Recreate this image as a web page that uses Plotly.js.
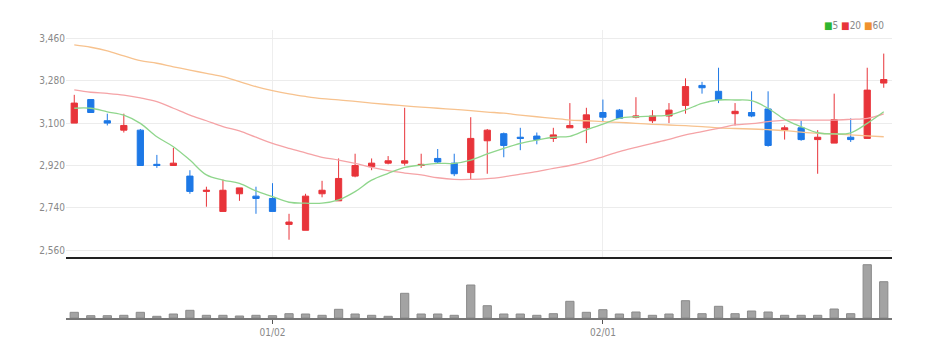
<!DOCTYPE html>
<html>
<head>
<meta charset="utf-8">
<script src="https://cdn.plot.ly/plotly-3.0.1.min.js"></script>
<style>
html,body{margin:0;padding:0;background:#fff;}
#chart{width:937px;height:358px;}
</style>
</head>
<body>
<div id="chart"></div>
<script>
var dates = [
  "2022-12-14","2022-12-15","2022-12-16","2022-12-19","2022-12-20","2022-12-21","2022-12-22","2022-12-23","2022-12-26","2022-12-27","2022-12-28","2022-12-29",
  "2023-01-02","2023-01-03","2023-01-04","2023-01-05","2023-01-06","2023-01-09","2023-01-10","2023-01-11","2023-01-12","2023-01-13",
  "2023-01-16","2023-01-17","2023-01-18","2023-01-19","2023-01-20","2023-01-25","2023-01-26","2023-01-27","2023-01-30","2023-01-31",
  "2023-02-01","2023-02-02","2023-02-03","2023-02-06","2023-02-07","2023-02-08","2023-02-09","2023-02-10","2023-02-13","2023-02-14",
  "2023-02-15","2023-02-16","2023-02-17","2023-02-20","2023-02-21","2023-02-22","2023-02-23","2023-02-24"
];
var openP  = [3100,3200,3110,3070,3070,2925,2920,2875,2810,2725,2800,2790,2780,2670,2645,2800,2770,2875,2915,2930,2930,2920,2950,2930,2890,3025,3055,3040,3045,3035,3080,3080,3145,3155,3125,3110,3130,3175,3260,3235,3140,3145,3160,3070,3080,3030,3015,3040,3035,3270];
var highP  = [3220,3200,3140,3140,3075,2965,2995,2900,2830,2860,2825,2830,2845,2715,2800,2855,2950,2970,2950,2960,3165,2970,2990,2970,3125,3075,3060,3080,3060,3080,3185,3165,3200,3160,3210,3155,3185,3290,3275,3335,3185,3235,3235,3090,3110,3070,3225,3120,3335,3395];
var lowP   = [3100,3145,3090,3060,2920,2910,2920,2800,2745,2725,2770,2715,2725,2605,2645,2785,2770,2870,2900,2925,2920,2910,2930,2875,2860,2885,2955,2985,3010,3020,3080,3015,3105,3120,3120,3100,3100,3140,3225,3185,3090,3125,3000,3030,3025,2885,3015,3020,3035,3250];
var closeP = [3185,3145,3100,3090,2920,2920,2930,2810,2815,2815,2825,2780,2725,2680,2790,2815,2865,2920,2930,2940,2940,2925,2935,2885,3035,3070,3005,3035,3030,3050,3090,3135,3125,3120,3130,3130,3155,3255,3250,3200,3150,3130,3005,3080,3030,3040,3115,3030,3240,3285];
var ma5  = [3163,3163,3148,3134,3099,3042,3000,2943,2880,2858,2844,2812,2788,2764,2760,2760,2774,2809,2858,2887,2912,2922,2929,2929,2943,2969,2993,3014,3028,3040,3044,3071,3096,3120,3127,3130,3134,3156,3184,3198,3198,3195,3163,3116,3085,3059,3054,3059,3099,3148];
var ma20 = [3241,3231,3226,3219,3207,3191,3163,3134,3110,3085,3067,3040,3014,2993,2974,2955,2943,2929,2912,2898,2888,2880,2868,2861,2861,2864,2872,2883,2894,2908,2920,2936,2957,2979,2997,3014,3031,3050,3064,3078,3092,3098,3106,3113,3113,3113,3113,3116,3120,3139];
var ma60 = [3432,3422,3407,3385,3365,3354,3339,3325,3311,3297,3276,3255,3238,3224,3213,3204,3199,3192,3185,3179,3173,3168,3163,3158,3153,3147,3142,3134,3127,3120,3113,3110,3106,3103,3099,3095,3092,3089,3085,3080,3077,3075,3072,3068,3062,3057,3054,3050,3046,3042];
var volume = [57,23,23,27,57,17,40,77,27,27,20,27,23,43,40,27,87,40,27,17,247,40,40,27,330,123,40,40,27,43,167,57,83,40,60,27,40,173,43,117,43,70,60,27,27,27,90,43,533,363].map(function(v){return v*1000;});
var priceTicks = [2560,2740,2920,3100,3280,3460];
var dateTickVals = ["2023-01-02","2023-02-01"];
var dateTickText = ["01/02","02/01"];

var UP = "#e8343a", DOWN = "#1d78e6";
var FONT = "DejaVu Sans Condensed, Liberation Sans Narrow, sans-serif";

var traces = [
  {type:"scatter", mode:"lines", x:dates, y:ma60, xaxis:"x", yaxis:"y", line:{color:"#f7c28e", width:1.3, shape:"spline"}, hoverinfo:"skip", showlegend:false},
  {type:"scatter", mode:"lines", x:dates, y:ma20, xaxis:"x", yaxis:"y", line:{color:"#f5a3a6", width:1.3, shape:"spline"}, hoverinfo:"skip", showlegend:false},
  {type:"scatter", mode:"lines", x:dates, y:ma5, xaxis:"x", yaxis:"y", line:{color:"#8fd68c", width:1.3, shape:"spline"}, hoverinfo:"skip", showlegend:false},
  {type:"candlestick", x:dates, open:openP, high:highP, low:lowP, close:closeP, xaxis:"x", yaxis:"y",
   increasing:{line:{color:UP, width:1}, fillcolor:UP},
   decreasing:{line:{color:DOWN, width:1}, fillcolor:DOWN},
   whiskerwidth:0, showlegend:false},
  {type:"bar", x:dates, y:volume, xaxis:"x2", yaxis:"y2", marker:{color:"#a3a3a3", line:{color:"#8a8a8a", width:1}}, showlegend:false}
];

var layout = {
  width:937, height:358,
  margin:{l:66, r:45, t:30, b:40},
  paper_bgcolor:"#fff", plot_bgcolor:"#fff",
  showlegend:false,
  boxgap:0.46,
  bargap:0.5,
  font:{family:FONT, color:"#888", size:10},
  xaxis:{
    type:"category", categoryorder:"array", categoryarray:dates,
    range:[-0.5, 49.5], domain:[0,1], anchor:"y",
    rangeslider:{visible:false},
    showticklabels:false, ticks:"",
    tickvals:dateTickVals, showgrid:true, gridcolor:"#eeeeee", gridwidth:1,
    showline:true, linecolor:"#222", linewidth:2, zeroline:false
  },
  yaxis:{
    domain:[0.2118, 1], range:[2531.6, 3495.2], anchor:"x",
    tickvals:priceTicks, tickformat:",d",
    showgrid:true, gridcolor:"#ececec", gridwidth:1,
    zeroline:false, showline:false, ticks:"",
    tickfont:{family:FONT, size:10, color:"#888"}
  },
  xaxis2:{
    type:"category", categoryorder:"array", categoryarray:dates,
    range:[-0.5, 49.5], domain:[0,1], anchor:"y2",
    tickvals:dateTickVals, ticktext:dateTickText,
    ticks:"outside", ticklen:4, tickcolor:"#555", tickwidth:1,
    showgrid:false, showline:true, linecolor:"#777", linewidth:2,
    tickfont:{family:FONT, size:10, color:"#888"}, zeroline:false
  },
  yaxis2:{
    domain:[0, 0.1944], range:[0, 560000], anchor:"x2",
    showticklabels:false, showgrid:false, zeroline:false, showline:false, ticks:""
  },
  annotations:[
    {xref:"paper", yref:"paper", x:1, y:1, xanchor:"right", yanchor:"middle", xshift:-6, yshift:5, showarrow:false,
     text:'<span style="color:#2fb52f">■</span>5 <span style="color:#e8343a">■</span>20 <span style="color:#f0922e">■</span>60',
     font:{family:FONT, size:10, color:"#888"}}
  ]
};

Plotly.newPlot("chart", traces, layout, {displayModeBar:false, staticPlot:true});
</script>
</body>
</html>
